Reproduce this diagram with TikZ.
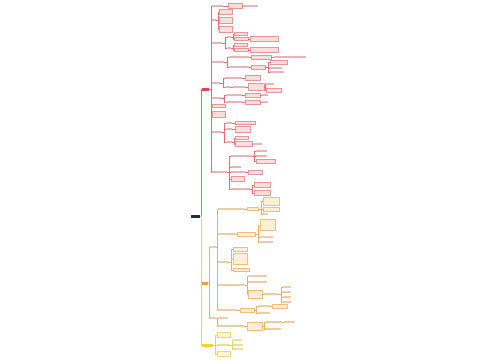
\documentclass[tikz,border=0pt]{standalone}
\usepackage{tikz}
\usepackage{xcolor}
\usetikzlibrary{positioning}
\definecolor{rootNavy}{RGB}{30, 45, 74}
\definecolor{redMain}{RGB}{224, 71, 76}
\definecolor{redLine}{RGB}{228, 110, 110}
\definecolor{redFill}{RGB}{250, 222, 222}
\definecolor{redEdge}{RGB}{235, 150, 150}
\definecolor{redText}{RGB}{232, 180, 180}
\definecolor{orangeMain}{RGB}{240, 160, 48}
\definecolor{orangeLine}{RGB}{240, 175, 80}
\definecolor{orangeFill}{RGB}{253, 238, 218}
\definecolor{orangeEdge}{RGB}{240, 190, 120}
\definecolor{orangeText}{RGB}{236, 205, 165}
\definecolor{yellowMain}{RGB}{247, 208, 56}
\definecolor{yellowLine}{RGB}{238, 210, 80}
\definecolor{yellowFill}{RGB}{254, 246, 210}
\definecolor{yellowEdge}{RGB}{238, 215, 115}
\definecolor{yellowText}{RGB}{236, 222, 160}
\tikzset{
    mbox/.style 2 args={anchor=west, inner sep=0pt, minimum width=#1, minimum height=#2},
    rbox/.style 2 args={mbox={#1}{#2}, draw=redEdge, fill=redFill, line width=0.3pt},
    rtxt/.style 2 args={mbox={#1}{#2}, fill=redText},
    obox/.style 2 args={mbox={#1}{#2}, draw=orangeEdge, fill=orangeFill, line width=0.3pt},
    otxt/.style 2 args={mbox={#1}{#2}, fill=orangeText},
    ybox/.style 2 args={mbox={#1}{#2}, draw=yellowEdge, fill=yellowFill, line width=0.3pt},
    ytxt/.style 2 args={mbox={#1}{#2}, fill=yellowText},
    rline/.style={draw=redLine, line width=0.5pt},
    oline/.style={draw=orangeLine, line width=0.5pt},
    yline/.style={draw=yellowLine, line width=0.5pt}
}

\begin{document}
\begin{tikzpicture}[x=1pt, y=-1pt]
    \fill[white] (0,0) rectangle (500,360);

    % Root and main branches
    \node[mbox={9}{3}, fill=rootNavy] at (191,216) (root) {};
    \node[mbox={7}{3}, fill=redMain] at (202,89) (red) {};
    \node[mbox={6}{3}, fill=orangeMain] at (202,283) (orange) {};
    \node[mbox={11}{3}, fill=yellowMain] at (202,345) (yellow) {};

    % Red branch
    \node[rtxt={11}{2}] at (212,6) (r1) {};
    \node[rbox={14}{5}] at (228,6) (r1a) {};
    \node[rtxt={15}{2}] at (243,6) (r1b) {};
    \node[rtxt={4}{2}] at (212,20) (r2) {};
    \node[rbox={13}{5}] at (219,12) (r2a) {};
    \node[rbox={13}{6}] at (219,20) (r2b) {};
    \node[rbox={13}{6}] at (219,29) (r2c) {};
    \node[rtxt={10}{2}] at (212,43) (r3) {};
    \node[rtxt={4}{2}] at (227,37) (r3a) {};
    \node[rbox={13}{3}] at (234,34) (r3a1) {};
    \node[rbox={14}{3}] at (234,39) (r3a2) {};
    \node[rbox={28}{5}] at (250,39) (r3a3) {};
    \node[rtxt={4}{2}] at (227,48) (r3b) {};
    \node[rbox={13}{3}] at (234,45) (r3b1) {};
    \node[rbox={14}{3}] at (234,50) (r3b2) {};
    \node[rbox={28}{5}] at (250,50) (r3b3) {};
    \node[rtxt={12}{2}] at (212,62) (r4) {};
    \node[rtxt={20}{2}] at (229,57) (r4a) {};
    \node[rbox={20}{4}] at (251,57) (r4a1) {};
    \node[rtxt={32}{2}] at (274,57) (r4a2) {};
    \node[rtxt={20}{2}] at (229,67) (r4b) {};
    \node[rbox={14}{4}] at (251,67) (r4b1) {};
    \node[rbox={17}{4}] at (270,62) (r4b1a) {};
    \node[rtxt={12}{2}] at (270,68) (r4b1b) {};
    \node[rtxt={14}{2}] at (270,72) (r4b1c) {};
    \node[rtxt={8}{2}] at (212,83) (r5) {};
    \node[rtxt={17}{2}] at (225,78) (r5a) {};
    \node[rbox={15}{5}] at (245,78) (r5a1) {};
    \node[rtxt={5}{2}] at (225,87) (r5b) {};
    \node[rtxt={12}{2}] at (233,87) (r5b1) {};
    \node[rbox={16}{7}] at (248,87) (r5b2) {};
    \node[rtxt={8}{2}] at (266,84) (r5b2a) {};
    \node[rbox={15}{4}] at (266,90) (r5b2b) {};
    \node[rtxt={9}{2}] at (212,98) (r6) {};
    \node[rtxt={16}{2}] at (226,95) (r6a) {};
    \node[rbox={15}{4}] at (245,95) (r6a1) {};
    \node[rtxt={6}{2}] at (262,95) (r6a2) {};
    \node[rtxt={16}{2}] at (226,102) (r6b) {};
    \node[rbox={15}{4}] at (245,102) (r6b1) {};
    \node[rtxt={6}{2}] at (262,102) (r6b2) {};
    \node[rbox={13}{3}] at (212,106) (r7) {};
    \node[rbox={13}{6}] at (212,114) (r8) {};
    \node[rtxt={9}{2}] at (212,132) (r9) {};
    \node[rtxt={6}{2}] at (226,123) (r9a) {};
    \node[rbox={20}{3}] at (235,123) (r9a1) {};
    \node[rtxt={6}{2}] at (226,129) (r9b) {};
    \node[rbox={15}{6}] at (235,129) (r9b1) {};
    \node[rtxt={6}{2}] at (226,142) (r9c) {};
    \node[rbox={13}{3}] at (235,138) (r9c1) {};
    \node[rbox={17}{5}] at (235,144) (r9c2) {};
    \node[rtxt={9}{2}] at (253,144) (r9c2a) {};
    \node[rtxt={15}{2}] at (212,172) (r10) {};
    \node[rtxt={21}{2}] at (231,156) (r10a) {};
    \node[rtxt={11}{2}] at (256,151) (r10a1) {};
    \node[rtxt={11}{2}] at (256,156) (r10a2) {};
    \node[rbox={19}{4}] at (256,161) (r10a3) {};
    \node[rtxt={10}{2}] at (231,167) (r10b) {};
    \node[rtxt={14}{2}] at (231,172) (r10c) {};
    \node[rbox={14}{4}] at (248,172) (r10c1) {};
    \node[rbox={13}{5}] at (231,179) (r10d) {};
    \node[rtxt={19}{2}] at (231,189) (r10e) {};
    \node[rbox={16}{5}] at (254,185) (r10e1) {};
    \node[rbox={16}{5}] at (254,193) (r10e2) {};

    % Orange branch
    \node[otxt={6}{2}] at (210,247) (o1) {};
    \node[otxt={6}{2}] at (210,318) (o2) {};
    \node[otxt={26}{2}] at (218,209) (o1a) {};
    \node[obox={11}{3}] at (247,209) (o1a1) {};
    \node[obox={16}{8}] at (263,201) (o1a1a) {};
    \node[obox={16}{4}] at (263,209) (o1a1b) {};
    \node[otxt={5}{2}] at (263,214) (o1a1c) {};
    \node[otxt={17}{2}] at (218,234) (o1b) {};
    \node[obox={18}{4}] at (237,234) (o1b1) {};
    \node[obox={15}{11}] at (260,225) (o1b1a) {};
    \node[otxt={13}{2}] at (260,237) (o1b1b) {};
    \node[otxt={13}{2}] at (260,242) (o1b1c) {};
    \node[otxt={10}{2}] at (218,262) (o1c) {};
    \node[obox={14}{4}] at (233,249) (o1c1) {};
    \node[obox={14}{11}] at (233,259) (o1c2) {};
    \node[obox={16}{3}] at (233,270) (o1c3) {};
    \node[otxt={27}{2}] at (218,285) (o1d) {};
    \node[otxt={19}{2}] at (248,276) (o1d1) {};
    \node[otxt={19}{2}] at (248,282) (o1d2) {};
    \node[obox={14}{8}] at (248,294) (o1d3) {};
    \node[otxt={14}{2}] at (264,294) (o1d3a) {};
    \node[otxt={20}{2}] at (218,310) (o1e) {};
    \node[obox={14}{4}] at (240,310) (o1e1) {};
    \node[otxt={12}{2}] at (258,306) (o1e1a) {};
    \node[obox={15}{4}] at (272,306) (o1e1a1) {};
    \node[otxt={12}{2}] at (258,313) (o1e1b) {};
    \node[otxt={10}{2}] at (218,318) (o2a) {};
    \node[otxt={26}{2}] at (218,326) (o2b) {};
    \node[obox={15}{8}] at (247,326) (o2b1) {};
    \node[otxt={17}{2}] at (265,322) (o2b1a) {};
    \node[otxt={11}{2}] at (284,322) (o2b1a1) {};
    \node[otxt={16}{2}] at (265,329) (o2b1b) {};

    % Yellow branch
    \node[ybox={13}{5}] at (217,335) (y1) {};
    \node[ytxt={13}{2}] at (217,345) (y2) {};
    \node[ytxt={9}{2}] at (233,340) (y2a) {};
    \node[ytxt={10}{2}] at (233,345) (y2b) {};
    \node[ytxt={10}{2}] at (233,349) (y2c) {};
    \node[ybox={13}{5}] at (217,354) (y3) {};

    % Connectors
    \draw[rline] (root.east) -- ++(1,0) |- (red.west);
    \draw[oline] (root.east) -- ++(1,0) |- (orange.west);
    \draw[yline] (root.east) -- ++(1,0) |- (yellow.west);

    \foreach \c in {r1,r2,r3,r4,r5,r6,r7,r8,r9,r10} \draw[rline] (red.east) -- ++(1.5,0) |- (\c.west);
    \draw[rline] (r1.east) -- (r1a.west);
    \draw[rline] (r1a.east) -- (r1b.west);
    \foreach \c in {r2a,r2b,r2c} \draw[rline] (r2.east) -- ++(1.5,0) |- (\c.west);
    \foreach \c in {r3a,r3b} \draw[rline] (r3.east) -- ++(2.5,0) |- (\c.west);
    \foreach \c in {r3a1,r3a2} \draw[rline] (r3a.east) -- ++(1.5,0) |- (\c.west);
    \foreach \c in {r3b1,r3b2} \draw[rline] (r3b.east) -- ++(1.5,0) |- (\c.west);
    \draw[rline] (r3a2.east) -- (r3a3.west);
    \draw[rline] (r3b2.east) -- (r3b3.west);
    \foreach \c in {r4a,r4b} \draw[rline] (r4.east) -- ++(2.5,0) |- (\c.west);
    \draw[rline] (r4a.east) -- (r4a1.west);
    \draw[rline] (r4a1.east) -- (r4a2.west);
    \draw[rline] (r4b.east) -- (r4b1.west);
    \foreach \c in {r4b1a,r4b1b,r4b1c} \draw[rline] (r4b1.east) -- ++(2.5,0) |- (\c.west);
    \foreach \c in {r5a,r5b} \draw[rline] (r5.east) -- ++(2.5,0) |- (\c.west);
    \draw[rline] (r5a.east) -- (r5a1.west);
    \draw[rline] (r5b.east) -- (r5b1.west);
    \draw[rline] (r5b1.east) -- (r5b2.west);
    \foreach \c in {r5b2a,r5b2b} \draw[rline] (r5b2.east) -- ++(1,0) |- (\c.west);
    \foreach \c in {r6a,r6b} \draw[rline] (r6.east) -- ++(2.5,0) |- (\c.west);
    \draw[rline] (r6a.east) -- (r6a1.west);
    \draw[rline] (r6a1.east) -- (r6a2.west);
    \draw[rline] (r6b.east) -- (r6b1.west);
    \draw[rline] (r6b1.east) -- (r6b2.west);
    \foreach \c in {r9a,r9b,r9c} \draw[rline] (r9.east) -- ++(2.5,0) |- (\c.west);
    \draw[rline] (r9a.east) -- (r9a1.west);
    \draw[rline] (r9b.east) -- (r9b1.west);
    \foreach \c in {r9c1,r9c2} \draw[rline] (r9c.east) -- ++(1.5,0) |- (\c.west);
    \draw[rline] (r9c2.east) -- (r9c2a.west);
    \foreach \c in {r10a,r10b,r10c,r10d,r10e} \draw[rline] (r10.east) -- ++(2,0) |- (\c.west);
    \foreach \c in {r10a1,r10a2,r10a3} \draw[rline] (r10a.east) -- ++(2,0) |- (\c.west);
    \draw[rline] (r10c.east) -- (r10c1.west);
    \foreach \c in {r10e1,r10e2} \draw[rline] (r10e.east) -- ++(2,0) |- (\c.west);

    \foreach \c in {o1,o2} \draw[oline] (orange.east) -- ++(1,0) |- (\c.west);
    \foreach \c in {o1a,o1b,o1c,o1d,o1e} \draw[oline] (o1.east) -- ++(1,0) |- (\c.west);
    \draw[oline] (o1a.east) -- (o1a1.west);
    \foreach \c in {o1a1a,o1a1b,o1a1c} \draw[oline] (o1a1.east) -- ++(2.5,0) |- (\c.west);
    \draw[oline] (o1b.east) -- (o1b1.west);
    \foreach \c in {o1b1a,o1b1b,o1b1c} \draw[oline] (o1b1.east) -- ++(2.5,0) |- (\c.west);
    \foreach \c in {o1c1,o1c2,o1c3} \draw[oline] (o1c.east) -- ++(2.5,0) |- (\c.west);
    \foreach \c in {o1d1,o1d2,o1d3} \draw[oline] (o1d.east) -- ++(1.5,0) |- (\c.west);
    \draw[oline] (o1d3.east) -- (o1d3a.west);
    \foreach \i/\y in {1/287,2/292,3/297,4/302} {
        \node[otxt={8}{2}] at (283,\y) (o1d3a\i) {};
        \draw[oline] (o1d3a.east) -- ++(2.5,0) |- (o1d3a\i.west);
    }
    \draw[oline] (o1e.east) -- (o1e1.west);
    \foreach \c in {o1e1a,o1e1b} \draw[oline] (o1e1.east) -- ++(2,0) |- (\c.west);
    \draw[oline] (o1e1a.east) -- (o1e1a1.west);
    \foreach \c in {o2a,o2b} \draw[oline] (o2.east) -- ++(1,0) |- (\c.west);
    \draw[oline] (o2b.east) -- (o2b1.west);
    \foreach \c in {o2b1a,o2b1b} \draw[oline] (o2b1.east) -- ++(1.5,0) |- (\c.west);
    \draw[oline] (o2b1a.east) -- (o2b1a1.west);

    \foreach \c in {y1,y2,y3} \draw[yline] (yellow.east) -- ++(2,0) |- (\c.west);
    \foreach \c in {y2a,y2b,y2c} \draw[yline] (y2.east) -- ++(1.5,0) |- (\c.west);
\end{tikzpicture}
\end{document}
